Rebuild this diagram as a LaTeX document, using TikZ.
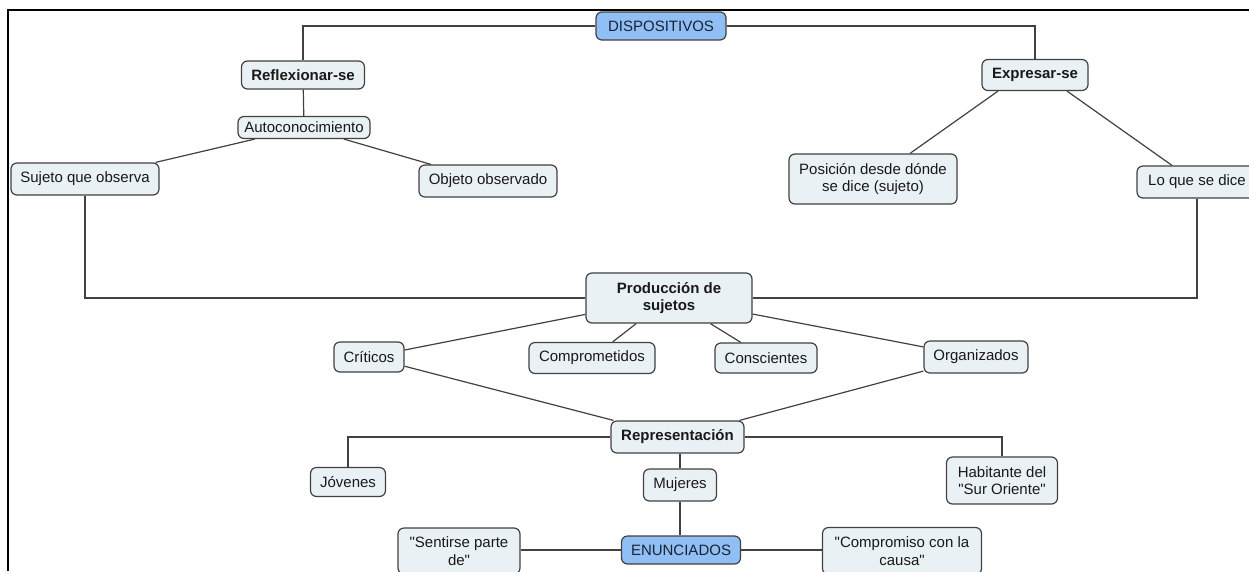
\documentclass[tikz,border=0pt]{standalone}
\usepackage{fontspec}
\setmainfont{Liberation Sans}
\usetikzlibrary{calc}
\definecolor{nodefill}{RGB}{234,241,245}
\definecolor{bluefill}{RGB}{143,191,245}
\definecolor{edgecol}{RGB}{65,65,65}
\definecolor{txtcol}{RGB}{25,25,25}
\definecolor{bluetxt}{RGB}{28,34,52}
\newcommand{\qq}{\textquotedbl}
\tikzset{
  concept/.style={draw=edgecol, line width=1.2pt, fill=nodefill, rounded corners=6pt,
    text=txtcol, font={\fontsize{15}{17.5}\selectfont}, align=center, inner sep=0pt},
  boldconcept/.style={concept, font={\fontsize{15}{17.5}\selectfont\bfseries}},
  blueconcept/.style={concept, fill=bluefill, text=bluetxt},
  link/.style={draw=edgecol, line width=1.2pt},
  frameline/.style={draw=black, line width=2pt}
}
\begin{document}
\begin{tikzpicture}[x=1pt, y=-1pt]
\useasboundingbox[fill=white] (0,0) rectangle (1249,571);

% nodes
\node[blueconcept, minimum width=130pt, minimum height=28pt] (disp) at (661,26) {DISPOSITIVOS};
\node[boldconcept, minimum width=123pt, minimum height=28pt] (refl) at (303,75) {Reflexionar-se};
\node[concept, minimum width=132pt, minimum height=22pt] (auto) at (304,127.5) {Autoconocimiento};
\node[concept, minimum width=148pt, minimum height=32pt] (suj) at (85,179) {Sujeto que observa};
\node[concept, minimum width=138pt, minimum height=32pt] (obj) at (488,181) {Objeto observado};
\node[boldconcept, minimum width=106pt, minimum height=31pt] (expr) at (1035,75) {Expresar-se};
\node[concept, minimum width=168pt, minimum height=50pt] (pos) at (873,179) {Posición desde dónde\\se dice (sujeto)};
\node[concept, minimum width=120pt, minimum height=32pt] (lo) at (1197,182) {Lo que se dice};

\node[boldconcept, minimum width=166pt, minimum height=50pt] (prod) at (669,298) {Producción de\\sujetos};
\node[concept, minimum width=70pt, minimum height=30pt] (crit) at (369,357) {Críticos};
\node[concept, minimum width=126pt, minimum height=31pt] (comp) at (592,358) {Comprometidos};
\node[concept, minimum width=102pt, minimum height=30pt] (cons) at (766,358) {Conscientes};
\node[concept, minimum width=104pt, minimum height=32pt] (org) at (976,357) {Organizados};

\node[boldconcept, minimum width=133pt, minimum height=32pt] (rep) at (677.5,437) {Representación};
\node[concept, minimum width=75pt, minimum height=29pt] (jov) at (348,482) {Jóvenes};
\node[concept, minimum width=73pt, minimum height=32pt] (muj) at (680,485) {Mujeres};
\node[concept, minimum width=111pt, minimum height=47pt] (hab) at (1002,480.5) {Habitante del\\\qq Sur Oriente\qq};

\node[concept, minimum width=122pt, minimum height=46pt] (sent) at (459,551) {\qq Sentirse parte\\de\qq};
\node[blueconcept, minimum width=119pt, minimum height=28pt] (enun) at (681,550) {ENUNCIADOS};
\node[concept, minimum width=159pt, minimum height=47pt] (compr) at (902,551) {\qq Compromiso con la\\causa\qq};

% connectors
\draw[link] (disp.west) -| (refl.north);
\draw[link] (disp.east) -| (expr.north);
\draw[link] (refl) -- (auto);
\draw[link] (auto) -- (suj);
\draw[link] (auto) -- (obj);
\draw[link] ($(expr.south)+(-37,0)$) -- ($(pos.north)+(37,0)$);
\draw[link] ($(expr.south)+(32,0)$) -- ($(lo.north)+(-25,0)$);
\draw[link] (suj.south) |- (prod.west);
\draw[link] (lo.south) |- (prod.east);
\draw[link] (prod) -- (crit);
\draw[link] (prod) -- (comp);
\draw[link] (prod) -- (cons);
\draw[link] (prod) -- (org);
\draw[link] (crit) -- (rep);
\draw[link] (org) -- (rep);
\draw[link] (rep.west) -| (jov.north);
\draw[link] (rep.east) -| (hab.north);
\draw[link] (muj.north) -- (muj.north |- rep.south);
\draw[link] (muj.south) -- (muj.south |- enun.north);
\draw[link] (enun.west) -- (enun.west -| sent.east);
\draw[link] (enun.east) -- (enun.east -| compr.west);

% frame
\draw[frameline] (8,571) -- (8,10) -- (1249,10);
\end{tikzpicture}
\end{document}
